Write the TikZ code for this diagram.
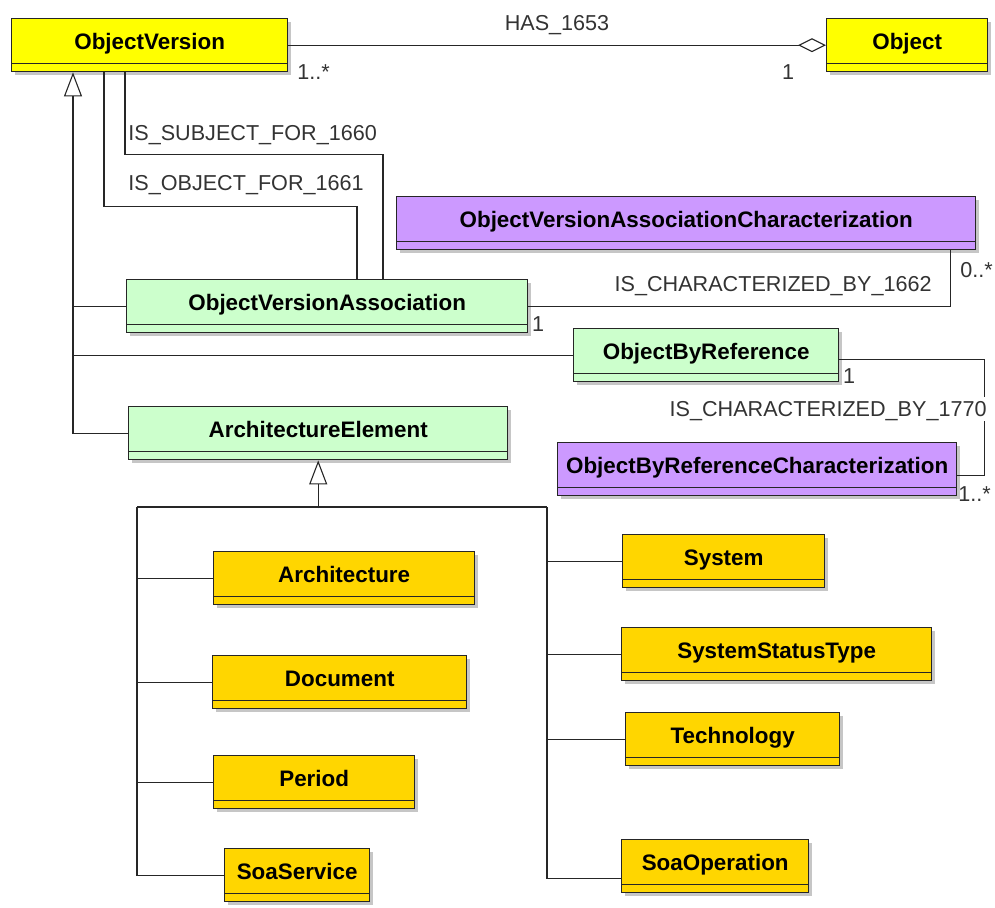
\documentclass[tikz,border=0pt]{standalone}
\usepackage{fontspec}
\setmainfont{Liberation Sans}
\usetikzlibrary{arrows.meta,shadows}

\definecolor{clsyellow}{HTML}{FFFF00}
\definecolor{clsgold}{HTML}{FFD600}
\definecolor{clsgreen}{HTML}{CCFFCC}
\definecolor{clspurple}{HTML}{CC99FF}

\tikzset{
  % class box: name compartment plus an empty one below
  cls/.style={draw=black!85, line width=0.7pt, fill=#1, anchor=north west,
    inner sep=0pt, text height=15.25pt, text depth=11.25pt,
    font=\fontsize{11.2}{13}\selectfont\bfseries,
    drop shadow={shadow xshift=1.8pt, shadow yshift=-1.8pt, opacity=0.45},
    path picture={\draw[line width=0.7pt, black!85]
      ([yshift=4pt]path picture bounding box.south west) --
      ([yshift=4pt]path picture bounding box.south east);}},
  lab/.style={inner sep=0pt, text height=7.8pt, text depth=0pt, text=black!80,
    font=\fontsize{10.8}{13}\selectfont},
  conn/.style={draw=black!85, line width=0.55pt},
  inh/.style={conn, -{Triangle[length=12pt, width=9pt, fill=white]}},
  agg/.style={conn, -{Diamond[length=14pt, width=7pt, fill=white]}}
}

\begin{document}
\begin{tikzpicture}[x=0.5pt, y=-0.5pt]
\useasboundingbox (0,0) rectangle (995,907);

% classes
\node[cls=clsyellow, minimum width=138pt] (objver) at (11,18) {ObjectVersion};
\node[cls=clsyellow, minimum width=80.5pt] (obj) at (826,18) {Object};
\node[cls=clspurple, minimum width=289.5pt] (ovac) at (396,196) {ObjectVersionAssociationCharacterization};
\node[cls=clsgreen, minimum width=200.5pt] (ova) at (126,279) {ObjectVersionAssociation};
\node[cls=clsgreen, minimum width=132.5pt] (obr) at (573,328) {ObjectByReference};
\node[cls=clspurple, minimum width=199.5pt] (obrc) at (557,442) {ObjectByReferenceCharacterization};
\node[cls=clsgreen, minimum width=189.5pt] (archel) at (128,406) {ArchitectureElement};

\node[cls=clsgold, minimum width=130.5pt] (arch) at (213,551) {Architecture};
\node[cls=clsgold, minimum width=127pt] (doc) at (212,655) {Document};
\node[cls=clsgold, minimum width=100.5pt] (period) at (213,755) {Period};
\node[cls=clsgold, minimum width=72.5pt] (soasvc) at (224,848) {SoaService};
\node[cls=clsgold, minimum width=101pt] (system) at (622,534) {System};
\node[cls=clsgold, minimum width=155pt] (sst) at (621,627) {SystemStatusType};
\node[cls=clsgold, minimum width=107pt] (tech) at (625,712) {Technology};
\node[cls=clsgold, minimum width=93.5pt] (soaop) at (621,839) {SoaOperation};

% generalisation to ObjectVersion
\coordinate (trunk) at (73,0);
\draw[inh] (archel.west) -| (objver.south -| trunk);
\draw[conn] (ova.west) -- (ova.west -| trunk);
\draw[conn] (obr.west) -- (obr.west -| trunk);

% generalisation to ArchitectureElement
\coordinate (aebus) at ([yshift=-24pt]archel.south);
\coordinate (lbus) at (137,507);
\coordinate (rbus) at (547,507);
\draw[inh] (aebus) -- (archel.south);
\draw[conn] (lbus) -- (rbus);
\draw[conn] (lbus) |- (soasvc.west);
\draw[conn] (rbus) |- ([yshift=-6pt]soaop.west);
\foreach \c in {arch,doc,period}
  \draw[conn] (\c.west) -- (\c.west -| lbus);
\foreach \c in {system,sst,tech}
  \draw[conn] (\c.west) -- (\c.west -| rbus);

% associations
\draw[agg] (objver.east) -- (obj.west);
\draw[conn] ([xshift=57pt]objver.south west) -- ++(0,82) -| ([xshift=128.5pt]ova.north west);
\draw[conn] ([xshift=46.5pt]objver.south west) -- ++(0,134) -| ([xshift=115.5pt]ova.north west);
\draw[conn] (ova.east) -| ([xshift=-13pt]ovac.south east);
\draw[conn] ([yshift=-2pt]obr.east) -- ++(145,0) |- ([yshift=-3pt]obrc.east);

% role names and multiplicities
\node[lab] (has) at (557,23) {HAS\_1653};
\node[lab, anchor=west] (hasmv) at (297,72) {1..*};
\node[lab] (hasmo) at (788,72) {1};
\node[lab, anchor=west] (subj) at (128,133) {IS\_SUBJECT\_FOR\_1660};
\node[lab, anchor=west] (objfor) at (128,183) {IS\_OBJECT\_FOR\_1661};
\node[lab, anchor=east] (char62) at (932,284) {IS\_CHARACTERIZED\_BY\_1662};
\node[lab] (ovam) at (538,324) {1};
\node[lab, anchor=west] (ovacm) at (960,270) {0..*};
\node[lab] (obrm) at (849,376) {1};
\node[lab, anchor=east, fill=white, inner ysep=2pt] (char70) at (987,409) {IS\_CHARACTERIZED\_BY\_1770};
\node[lab, anchor=west] (obrcm) at (958,494) {1..*};
\end{tikzpicture}
\end{document}
